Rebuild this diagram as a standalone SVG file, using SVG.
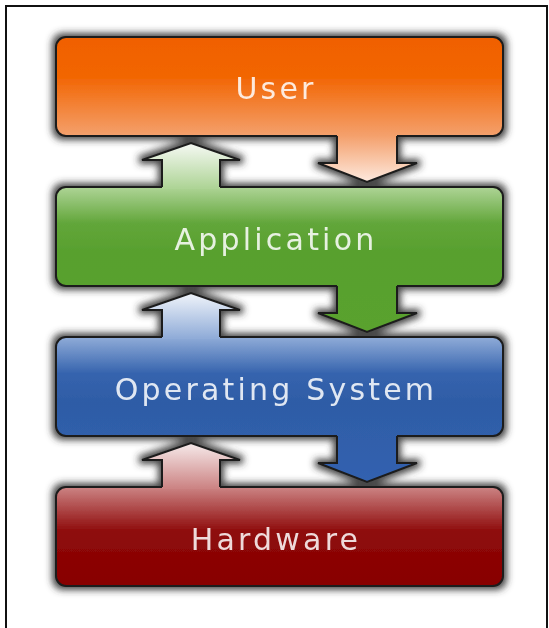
<svg xmlns="http://www.w3.org/2000/svg" width="549" height="628" viewBox="0 0 549 628">
<defs>
<style>
.box{stroke:#1c1c1c;stroke-width:2}
.edge{fill:none;stroke:#1c1c1c;stroke-width:2;stroke-linejoin:miter}
.lbl{font-family:"DejaVu Sans","Liberation Sans",sans-serif;font-size:30px;letter-spacing:3.2px;text-anchor:middle;fill:#ffffff;fill-opacity:0.85}
</style>
<filter id="halo" x="-10%" y="-10%" width="120%" height="120%">
<feMorphology in="SourceAlpha" operator="dilate" radius="3" result="d"/>
<feGaussianBlur in="d" stdDeviation="3.5" result="b"/>
<feFlood flood-color="#333333" flood-opacity="0.9"/>
<feComposite in2="b" operator="in" result="s"/>
<feMerge><feMergeNode in="s"/><feMergeNode in="SourceGraphic"/></feMerge>
</filter>
<linearGradient id="gUser" gradientUnits="userSpaceOnUse" x1="0" y1="37" x2="0" y2="182">
<stop offset="0" stop-color="#f06000"/>
<stop offset="0.28" stop-color="#f26604"/>
<stop offset="0.68" stop-color="#f4a06c"/>
<stop offset="1" stop-color="#fde9de"/>
</linearGradient>
<linearGradient id="gApp" gradientUnits="userSpaceOnUse" x1="0" y1="187" x2="0" y2="332">
<stop offset="0" stop-color="#aed496"/>
<stop offset="0.25" stop-color="#62a63a"/>
<stop offset="0.45" stop-color="#58a02e"/>
<stop offset="1" stop-color="#5aa22e"/>
</linearGradient>
<linearGradient id="gOS" gradientUnits="userSpaceOnUse" x1="0" y1="337" x2="0" y2="482">
<stop offset="0" stop-color="#90acd8"/>
<stop offset="0.25" stop-color="#3664ae"/>
<stop offset="0.45" stop-color="#2e5ca6"/>
<stop offset="1" stop-color="#3262b0"/>
</linearGradient>
<linearGradient id="gHW" gradientUnits="userSpaceOnUse" x1="0" y1="487" x2="0" y2="586">
<stop offset="0" stop-color="#cc8484"/>
<stop offset="0.45" stop-color="#8e0a0a"/>
<stop offset="1" stop-color="#880000"/>
</linearGradient>
<linearGradient id="gUpApp" gradientUnits="userSpaceOnUse" x1="0" y1="143" x2="0" y2="188">
<stop offset="0" stop-color="#f6f9f4"/>
<stop offset="1" stop-color="#aed496"/>
</linearGradient>
<linearGradient id="gUpOS" gradientUnits="userSpaceOnUse" x1="0" y1="293" x2="0" y2="338">
<stop offset="0" stop-color="#f0f4fa"/>
<stop offset="1" stop-color="#90acd8"/>
</linearGradient>
<linearGradient id="gUpHW" gradientUnits="userSpaceOnUse" x1="0" y1="443" x2="0" y2="488">
<stop offset="0" stop-color="#f6eaea"/>
<stop offset="1" stop-color="#cc8484"/>
</linearGradient>
</defs>
<rect x="0" y="0" width="549" height="628" fill="#ffffff"/>
<rect x="6" y="6" width="541" height="640" fill="none" stroke="#111111" stroke-width="2"/>
<g filter="url(#halo)">
<g id="user">
<rect class="box" x="56" y="37" width="447" height="99" rx="10" fill="url(#gUser)"/>
<text class="lbl" x="276" y="99">User</text>
</g>
<g id="application">
<rect class="box" x="56" y="187" width="447" height="99" rx="10" fill="url(#gApp)"/>
<text class="lbl" x="276" y="250">Application</text>
</g>
<g id="operating-system">
<rect class="box" x="56" y="337" width="447" height="99" rx="10" fill="url(#gOS)"/>
<text class="lbl" x="276" y="400">Operating System</text>
</g>
<g id="hardware">
<rect class="box" x="56" y="487" width="447" height="99" rx="10" fill="url(#gHW)"/>
<text class="lbl" x="276" y="550">Hardware</text>
</g>
<g id="connectors">
<path d="M337,134 V163 H318 L367,182 L417,163 H397 V134 Z" fill="url(#gUser)"/>
<path class="edge" d="M337,136 V163 H318 L367,182 L417,163 H397 V136"/>
<path d="M337,284 V313 H318 L367,332 L417,313 H397 V284 Z" fill="url(#gApp)"/>
<path class="edge" d="M337,286 V313 H318 L367,332 L417,313 H397 V286"/>
<path d="M337,434 V463 H318 L367,482 L417,463 H397 V434 Z" fill="url(#gOS)"/>
<path class="edge" d="M337,436 V463 H318 L367,482 L417,463 H397 V436"/>
<path d="M162,189 V160 H142 L191,143 L240,160 H220 V189 Z" fill="url(#gUpApp)"/>
<path class="edge" d="M162,187 V160 H142 L191,143 L240,160 H220 V187"/>
<path d="M162,339 V310 H142 L191,293 L240,310 H220 V339 Z" fill="url(#gUpOS)"/>
<path class="edge" d="M162,337 V310 H142 L191,293 L240,310 H220 V337"/>
<path d="M162,489 V460 H142 L191,443 L240,460 H220 V489 Z" fill="url(#gUpHW)"/>
<path class="edge" d="M162,487 V460 H142 L191,443 L240,460 H220 V487"/>
</g>
</g>
</svg>
